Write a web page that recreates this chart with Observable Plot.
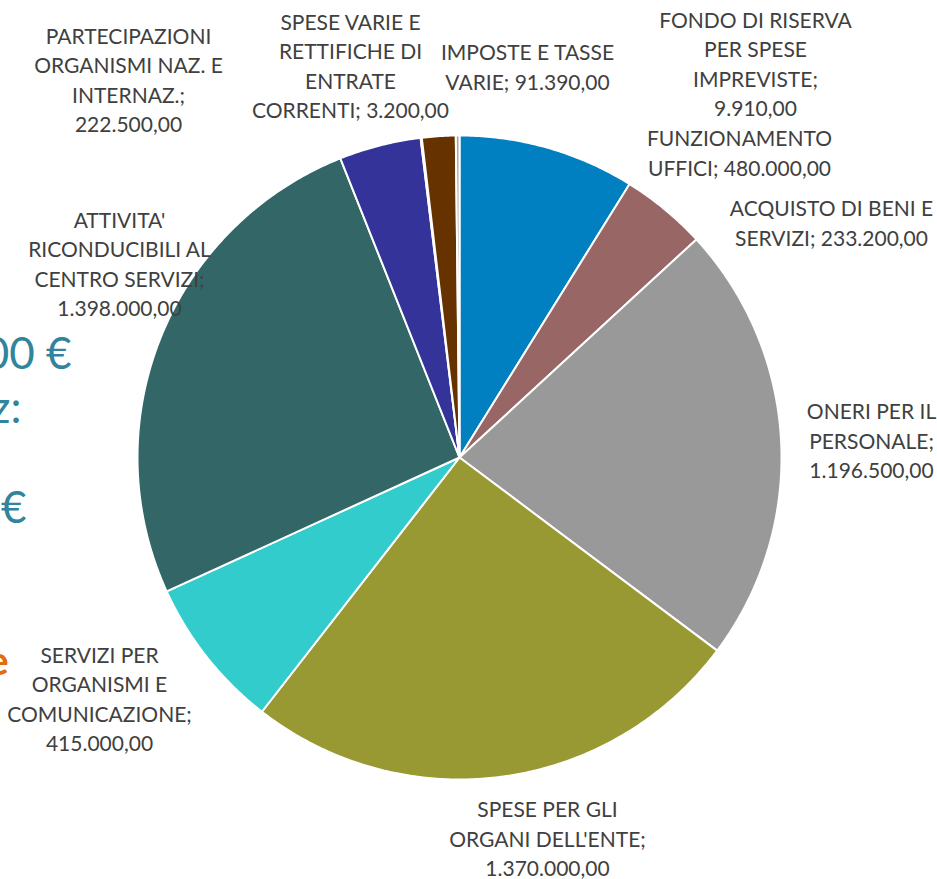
<!DOCTYPE html>
<html>
<head>
<meta charset="utf-8">
<script src="https://cdn.jsdelivr.net/npm/d3@7"></script>
<script src="https://cdn.jsdelivr.net/npm/@observablehq/plot@0.6"></script>
<style>
  html, body { margin: 0; padding: 0; background: #ffffff; }
  #chart svg { display: block; }
</style>
</head>
<body>
<div id="chart"></div>
<script>
// ---- data ----
const categories = [
  "FUNZIONAMENTO UFFICI",
  "ACQUISTO DI BENI E SERVIZI",
  "ONERI PER IL PERSONALE",
  "SPESE PER GLI ORGANI DELL'ENTE",
  "SERVIZI PER ORGANISMI E COMUNICAZIONE",
  "ATTIVITA' RICONDUCIBILI AL CENTRO SERVIZI",
  "PARTECIPAZIONI ORGANISMI NAZ. E INTERNAZ.",
  "SPESE VARIE E RETTIFICHE DI ENTRATE CORRENTI",
  "IMPOSTE E TASSE VARIE",
  "FONDO DI RISERVA PER SPESE IMPREVISTE"
];
const values = [480000, 233200, 1196500, 1370000, 415000, 1398000, 222500, 3200, 91390, 9910];
const colors = ["#0080C0", "#996666", "#999999", "#999933", "#33CCCC", "#336666", "#333399", "#808080", "#663300", "#A6A6A6"];

// background text fragments partly visible at the left edge
const fragments = ["00 €", "z:", "€", "e"];

// ---- layout (pixels in the 937x879 picture) ----
const cx = 459, cy = 457, R = 322;
const W = 937, H = 879;
// words per line of each data label
const labelBreaks = [[1, 2], [4, 2], [3, 1, 1], [3, 2, 1], [2, 2, 1, 1], [1, 2, 2, 1], [1, 3, 1, 1], [3, 2, 1, 2], [3, 2], [3, 2, 1, 1]];
// label block centres
const labelPos = [[739, 151], [831, 221], [871, 439], [547, 837], [99, 697], [119, 262], [128, 78], [350, 64], [527, 65], [755, 62]];
const fragPos = [[71, 354, 44, "#31849B", "normal"], [21, 408, 44, "#31849B", "normal"], [26, 508, 44, "#31849B", "normal"], [8, 662, 40, "#E46C0A", "bold"]];

const fmt = d3.formatLocale({decimal: ",", thousands: ".", grouping: [3], currency: ["", ""]}).format(",.2f");
const toX = px => (px - cx) / R;
const toY = py => (cy - py) / R;

function wrap(text, breaks) {
  const words = text.split(" ");
  const lines = [];
  let i = 0;
  for (const n of breaks) { lines.push(words.slice(i, i + n).join(" ")); i += n; }
  return lines.join("\n");
}

// pie geometry (angles clockwise from 12 o'clock)
const arcs = d3.pie().sort(null).value(d => d.value).startAngle(0).endAngle(2 * Math.PI)(
  categories.map((name, i) => ({name, value: values[i]}))
);
const slicePts = [];
for (const a of arcs) {
  const name = a.data.name;
  slicePts.push({name, x: 0, y: 0});
  const n = Math.max(2, Math.ceil((a.endAngle - a.startAngle) / (Math.PI / 360)));
  for (let k = 0; k <= n; k++) {
    const t = a.startAngle + (a.endAngle - a.startAngle) * k / n;
    slicePts.push({name, x: Math.sin(t), y: Math.cos(t)});
  }
}

const labels = categories.map((name, i) => ({
  text: wrap(`${name}; ${fmt(values[i])}`, labelBreaks[i]),
  x: toX(labelPos[i][0]),
  y: toY(labelPos[i][1])
}));
const frags = fragments.map((t, i) => ({
  text: t, x: toX(fragPos[i][0]), y: toY(fragPos[i][1]),
  size: fragPos[i][2], color: fragPos[i][3], weight: fragPos[i][4]
}));

const chart = Plot.plot({
  width: W,
  height: H,
  marginLeft: cx - R,
  marginRight: W - (cx + R),
  marginTop: cy - R,
  marginBottom: H - (cy + R),
  x: {domain: [-1, 1], axis: null},
  y: {domain: [-1, 1], axis: null},
  color: {domain: categories, range: colors},
  style: {fontFamily: "Lato, 'Open Sans', sans-serif", background: "#ffffff", overflow: "visible"},
  marks: [
    ...frags.map(f => Plot.text([f], {
      x: "x", y: "y", text: "text", textAnchor: "end",
      fontSize: f.size, fill: f.color, fontWeight: f.weight
    })),
    Plot.line(slicePts, {
      x: "x", y: "y", z: "name", fill: "name",
      stroke: "white", strokeWidth: 2, strokeLinejoin: "round",
      curve: "linear-closed"
    }),
    Plot.text(labels, {
      x: "x", y: "y", text: "text", textAnchor: "middle",
      fontSize: 21, lineHeight: 29.5 / 21, fill: "#404040"
    })
  ]
});
document.getElementById("chart").appendChild(chart);
</script>
</body>
</html>
